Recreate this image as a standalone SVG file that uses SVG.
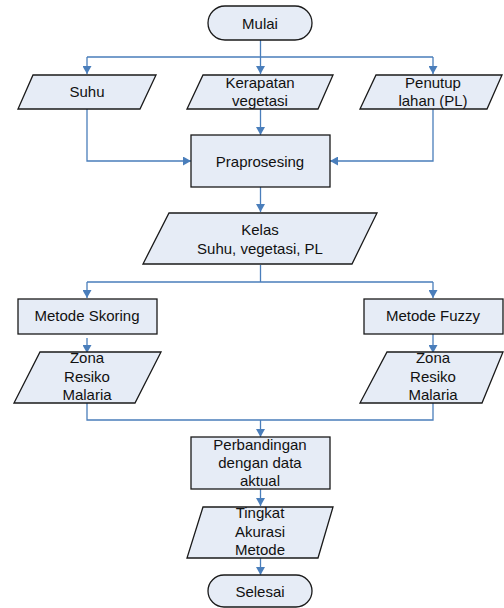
<svg xmlns="http://www.w3.org/2000/svg" width="504" height="608" viewBox="0 0 504 608">
<style>
.n{fill:#E6ECF6;stroke:#1a1a1a;stroke-width:1.3}
.c{fill:none;stroke:#4A7EBB;stroke-width:1.3}
text{font-family:"Liberation Sans",Arial,sans-serif;font-size:15px;fill:#111;text-anchor:middle}
</style>
<defs>
<marker id="a" markerWidth="8" markerHeight="9" refX="8" refY="4.5" orient="auto" markerUnits="userSpaceOnUse">
<path d="M0,0 L8,4.5 L0,9 Z" fill="#4A7EBB"/>
</marker>
</defs>
<rect width="504" height="608" fill="#fff"/>
<g id="connectors">
<path class="c" d="M260.5,40 V57 M87,57 H433"/>
<path class="c" d="M87,57 V74" marker-end="url(#a)"/>
<path class="c" d="M260.5,57 V74" marker-end="url(#a)"/>
<path class="c" d="M433,57 V74" marker-end="url(#a)"/>
<path class="c" d="M260.5,109 V135" marker-end="url(#a)"/>
<path class="c" d="M87,109 V161 H191" marker-end="url(#a)"/>
<path class="c" d="M433,109 V161 H330" marker-end="url(#a)"/>
<path class="c" d="M260.5,187 V212" marker-end="url(#a)"/>
<path class="c" d="M260.5,265 V282 M87,282 H433"/>
<path class="c" d="M87,282 V298" marker-end="url(#a)"/>
<path class="c" d="M433,282 V298" marker-end="url(#a)"/>
<path class="c" d="M87,338 V353" marker-end="url(#a)"/>
<path class="c" d="M433,334 V353" marker-end="url(#a)"/>
<path class="c" d="M87,403 V420 H433 V403"/>
<path class="c" d="M260.5,420 V437" marker-end="url(#a)"/>
<path class="c" d="M260.5,489 V506" marker-end="url(#a)"/>
<path class="c" d="M260.5,558 V575" marker-end="url(#a)"/>
</g>
<g id="mulai"><rect class="n" x="208" y="6" width="104" height="34" rx="17"/><text x="260" y="29">Mulai</text></g>
<g id="suhu"><polygon class="n" points="33,75 156,75 140,109 18,109"/><text x="87" y="97">Suhu</text></g>
<g id="kerapatan"><polygon class="n" points="203,75 333,75 318,109 187,109"/><text x="260" y="88">Kerapatan</text><text x="260" y="106">vegetasi</text></g>
<g id="penutup"><polygon class="n" points="376,75 502,75 487,109 360,109"/><text x="433" y="88">Penutup</text><text x="433" y="106">lahan (PL)</text></g>
<g id="praprosesing"><rect class="n" x="191" y="135" width="139" height="52"/><text x="260" y="167">Praprosesing</text></g>
<g id="kelas"><polygon class="n" points="169,213 377,213 352,264 143,264"/><text x="260" y="235">Kelas</text><text x="260" y="254">Suhu, vegetasi, PL</text></g>
<g id="skoring"><rect class="n" x="18" y="299" width="139" height="35"/><text x="87" y="321">Metode Skoring</text></g>
<g id="fuzzy"><rect class="n" x="364" y="299" width="139" height="35"/><text x="433" y="321">Metode Fuzzy</text></g>
<g id="zona1"><polygon class="n" points="40,352 161,352 135,403 14,403"/><text x="87" y="363">Zona</text><text x="87" y="382">Resiko</text><text x="87" y="400">Malaria</text></g>
<g id="zona2"><polygon class="n" points="387,352 503,352 482,403 360,403"/><text x="433" y="363">Zona</text><text x="433" y="382">Resiko</text><text x="433" y="400">Malaria</text></g>
<g id="perbandingan"><rect class="n" x="191" y="437" width="139" height="52"/><text x="260" y="450">Perbandingan</text><text x="260" y="468">dengan data</text><text x="260" y="486">aktual</text></g>
<g id="tingkat"><polygon class="n" points="203,507 333,507 318,558 187,558"/><text x="260" y="518">Tingkat</text><text x="260" y="537">Akurasi</text><text x="260" y="555">Metode</text></g>
<g id="selesai"><rect class="n" x="208" y="575" width="104" height="32" rx="16"/><text x="260" y="597">Selesai</text></g>
</svg>
